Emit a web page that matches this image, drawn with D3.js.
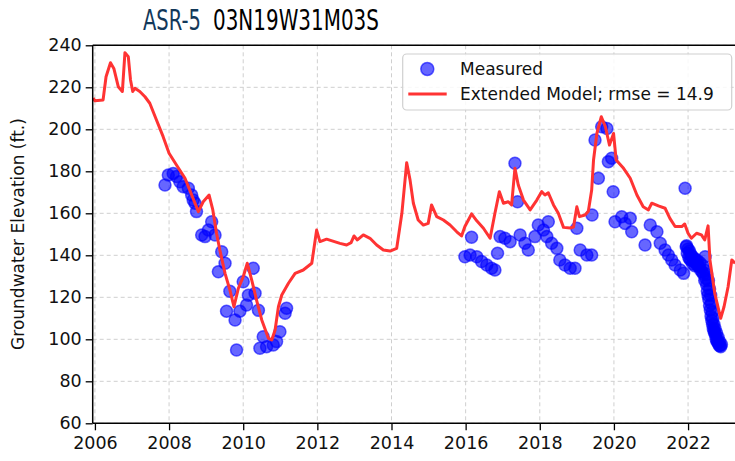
<!DOCTYPE html>
<html>
<head>
<meta charset="utf-8">
<script src="https://cdn.jsdelivr.net/npm/d3@7"></script>
<style>
  body { margin: 0; background: #fff; }
  text { font-family: "DejaVu Sans", sans-serif; }
</style>
</head>
<body>
<svg width="735" height="461"></svg>
<script>
// model line (extended model)
var modelYears = [2005.95, 2006.00, 2006.22, 2006.30, 2006.42, 2006.51, 2006.63, 2006.74, 2006.81, 2006.90,
    2006.96, 2007.02, 2007.08, 2007.21, 2007.35, 2007.48, 2007.66, 2007.84, 2008.00, 2008.20,
    2008.43, 2008.79, 2008.92, 2009.08, 2009.18, 2009.28, 2009.37, 2009.51, 2009.64, 2009.75,
    2009.87, 2010.00, 2010.11, 2010.23, 2010.36, 2010.50, 2010.68, 2010.77, 2010.86, 2010.95,
    2011.04, 2011.22, 2011.40, 2011.62, 2011.85, 2011.98, 2012.07, 2012.25, 2012.61, 2012.79,
    2012.91, 2012.99, 2013.08, 2013.24, 2013.42, 2013.60, 2013.78, 2013.96, 2014.14, 2014.28,
    2014.41, 2014.50, 2014.59, 2014.72, 2014.86, 2014.99, 2015.08, 2015.22, 2015.40, 2015.58,
    2015.76, 2015.89, 2015.98, 2016.16, 2016.30, 2016.48, 2016.66, 2016.79, 2016.91, 2017.02,
    2017.15, 2017.24, 2017.33, 2017.42, 2017.56, 2017.74, 2017.92, 2018.05, 2018.14, 2018.23,
    2018.37, 2018.50, 2018.64, 2018.82, 2018.91, 2019.00, 2019.07, 2019.22, 2019.31, 2019.40,
    2019.45, 2019.54, 2019.66, 2019.77, 2019.88, 2019.99, 2020.06, 2020.26, 2020.44, 2020.62,
    2020.79, 2020.93, 2021.02, 2021.20, 2021.38, 2021.51, 2021.65, 2021.83, 2021.91, 2022.00,
    2022.09, 2022.23, 2022.36, 2022.45, 2022.54, 2022.59, 2022.72, 2022.88, 2022.97, 2023.08,
    2023.18, 2023.27];
var modelValues = [214.8, 213.6, 214, 225, 231.7, 229, 220.3, 218, 236.5, 234.6,
    223.5, 218, 219.5, 218, 215.5, 212.4, 204.4, 196.5, 188.6, 183,
    176.7, 160.8, 165.5, 168.7, 161.6, 150.5, 142.5, 131.4, 123.5, 115.5,
    124.3, 129.8, 136.2, 128.2, 118.7, 109.2, 100.5, 99.7, 104.4, 115.5,
    121.1, 126.7, 131.4, 133, 136.2, 152, 146.5, 147.7, 145.7, 144.9,
    146, 149.2, 147.3, 149.7, 148.1, 144.9, 142.5, 142, 143.3, 160,
    184.1, 175.9, 164.8, 156.8, 154.4, 155.2, 164, 158.4, 156.8, 154.4,
    151.2, 149.2, 153.7, 159.7, 156.4, 152.9, 148.1, 160, 170.3, 164.8,
    165.5, 164, 181.4, 173.5, 166.3, 161.6, 166.3, 170.3, 168.7, 169.8,
    164, 160, 153.3, 153, 153.5, 163.1, 158.4, 159.2, 161, 171.1,
    185.4, 198, 206, 201.2, 192.5, 198, 185.4, 181.4, 176.7, 168.7,
    163.1, 161.6, 164.8, 163.5, 162.4, 157.6, 153.7, 153.7, 154.9, 150.5,
    148.1, 150.5, 149.7, 147.3, 154, 137.8, 121.9, 110, 115.5, 125,
    137.8, 136.2];

// measured water levels
var measuredYears = [2007.89, 2007.98, 2008.11, 2008.20, 2008.29, 2008.38, 2008.52, 2008.61, 2008.65, 2008.70,
    2008.74, 2008.88, 2008.97, 2009.06, 2009.15, 2009.24, 2009.33, 2009.42, 2009.51, 2009.55,
    2009.64, 2009.78, 2009.82, 2009.91, 2010.00, 2010.09, 2010.14, 2010.27, 2010.32, 2010.41,
    2010.45, 2010.54, 2010.63, 2010.81, 2010.90, 2010.99, 2011.13, 2011.17,
    2015.98, 2016.12, 2016.16, 2016.30, 2016.43, 2016.57, 2016.70, 2016.79, 2016.86, 2016.93,
    2017.06, 2017.20, 2017.33, 2017.40, 2017.47, 2017.60, 2017.69, 2017.87, 2017.96, 2018.10,
    2018.19, 2018.23, 2018.32, 2018.46, 2018.54, 2018.68, 2018.82, 2018.95, 2019.00, 2019.09,
    2019.27, 2019.40, 2019.41, 2019.49, 2019.58, 2019.67, 2019.81, 2019.85, 2019.94, 2019.98,
    2020.03, 2020.21, 2020.30, 2020.44, 2020.48, 2020.84, 2020.98, 2021.16, 2021.25, 2021.38,
    2021.47, 2021.56, 2021.65, 2021.79, 2021.88, 2021.92, 2021.95, 2021.98, 2022.02, 2022.05,
    2022.08, 2022.12, 2022.15, 2022.18, 2022.22, 2022.26, 2022.30, 2022.34, 2022.38, 2022.42,
    2022.45, 2022.46, 2022.48, 2022.50, 2022.52, 2022.54, 2022.56, 2022.58, 2022.60, 2022.62,
    2022.64, 2022.66, 2022.68, 2022.70, 2022.72, 2022.74, 2022.76, 2022.78, 2022.80, 2022.82,
    2022.84, 2022.86, 2022.88,
    2021.96, 2022.00, 2022.04, 2022.07, 2022.10, 2022.14, 2022.20, 2022.25, 2022.32, 2022.40,
    2022.44, 2022.50, 2022.55, 2022.58, 2022.61, 2022.63, 2022.65, 2022.67, 2022.70, 2022.73,
    2022.77, 2022.81, 2022.85, 2022.90];
var measuredValues = [173.5, 178.2, 179, 177.5, 175, 172.7, 171.9, 168.7, 166.3, 164.8,
    160.8, 149.7, 148.9, 152, 156, 149.7, 132.2, 141.7, 136.2, 113.4,
    122.9, 109.2, 94.9, 113.4, 127.4, 116.3, 121, 133.8, 121.9, 113.8,
    95.7, 101.2, 96.5, 97.3, 98.9, 103.6, 112.4, 114.8,
    139.3, 140.1, 148.6, 139.3, 137, 135.4, 133.8, 133, 141, 148.9,
    148.1, 146.5, 183.8, 165.5, 149.7, 145.7, 142.5, 148.9, 154.4, 152,
    148.9, 156, 145.7, 143.3, 137.8, 135.4, 133.8, 133.8, 152.9, 142.5,
    140.1, 140.1, 159.2, 194.9, 176.7, 201.2, 200.4, 184.6, 186.2, 170.3,
    156, 158.4, 155.2, 157.6, 151.2, 144.9, 154.4, 151.2, 145.7, 142.5,
    140.1, 137.8, 135.4, 133, 131.4, 171.9, 144.1, 141, 139, 138,
    137.8, 136, 137, 135, 136.2, 135, 134.6, 133, 132, 131,
    128, 139.3, 129, 126, 123, 121, 119, 116, 114, 111,
    109, 107, 105, 104, 103, 102, 100, 99, 99, 98,
    97, 97, 96.5,
    144.5, 143, 142, 140.5, 139.5, 139, 138, 137.5, 136.5, 135,
    133, 131, 128, 124, 121, 117, 113, 110, 107, 105,
    103, 101, 99, 97.5];

var xTicks = [2006, 2008, 2010, 2012, 2014, 2016, 2018, 2020, 2022];
var yTicks = [60, 80, 100, 120, 140, 160, 180, 200, 220, 240];

var legendLabels = ["Measured", "Extended Model; rmse = 14.9"];

//setup the svg canvas
var svg = d3.select("svg");

var plotLeft = 92.7, plotRight = 737, plotTop = 45.3, plotBottom = 423.3;

var x = d3.scaleLinear()
    .domain([2005.94, 2023.32])
    .range([plotLeft, plotRight]);

var y = d3.scaleLinear()
    .domain([60, 240])
    .range([plotBottom, plotTop]);

// grid lines
svg.append("g")
    .selectAll("line")
    .data(xTicks)
    .enter().append("line")
    .attr("x1", d => x(d)).attr("x2", d => x(d))
    .attr("y1", plotTop).attr("y2", plotBottom)
    .attr("stroke", "#cfcfcf")
    .attr("stroke-width", 1)
    .attr("stroke-dasharray", "4,3");

svg.append("g")
    .selectAll("line")
    .data(yTicks)
    .enter().append("line")
    .attr("x1", plotLeft).attr("x2", plotRight)
    .attr("y1", d => y(d)).attr("y2", d => y(d))
    .attr("stroke", "#cfcfcf")
    .attr("stroke-width", 1)
    .attr("stroke-dasharray", "4,3");

// measured points
var measured = measuredYears.map(function (d, i) { return { year: d, value: measuredValues[i] }; });

svg.append("g")
    .selectAll("circle")
    .data(measured)
    .enter().append("circle")
    .attr("cx", d => x(d.year))
    .attr("cy", d => y(d.value))
    .attr("r", 6)
    .attr("fill", "#0000ff")
    .attr("fill-opacity", 0.6)
    .attr("stroke", "#0000ff")
    .attr("stroke-opacity", 0.6)
    .attr("stroke-width", 1.5);

// model line
var model = modelYears.map(function (d, i) { return { year: d, value: modelValues[i] }; });

var line = d3.line()
    .x(d => x(d.year))
    .y(d => y(d.value));

svg.append("path")
    .datum(model)
    .attr("d", line)
    .attr("fill", "none")
    .attr("stroke", "#ff3333")
    .attr("stroke-width", 3)
    .attr("stroke-linejoin", "round");

// axes
var xAxis = svg.append("g")
    .attr("transform", "translate(0," + plotBottom + ")")
    .call(d3.axisBottom(x).tickValues(xTicks).tickFormat(d3.format("d")).tickSize(7).tickPadding(6));

var yAxis = svg.append("g")
    .attr("transform", "translate(" + plotLeft + ",0)")
    .call(d3.axisLeft(y).tickValues(yTicks).tickSize(7).tickPadding(4));

[xAxis, yAxis].forEach(function (a) {
    a.select(".domain").remove();
    a.selectAll("line").attr("stroke", "#000").attr("stroke-width", 1.3);
    a.selectAll("text")
        .attr("fill", "#111")
        .style("font-size", "17.5px")
        .style("font-family", "DejaVu Sans");
});

// spines
svg.append("line").attr("x1", plotLeft).attr("x2", plotRight).attr("y1", plotTop).attr("y2", plotTop)
    .attr("stroke", "#000").attr("stroke-width", 1.5);
svg.append("line").attr("x1", plotLeft).attr("x2", plotRight).attr("y1", plotBottom).attr("y2", plotBottom)
    .attr("stroke", "#000").attr("stroke-width", 1.5);
svg.append("line").attr("x1", plotLeft).attr("x2", plotLeft).attr("y1", plotTop).attr("y2", plotBottom)
    .attr("stroke", "#000").attr("stroke-width", 1.5);

// y label
svg.append("text")
    .attr("transform", "translate(24,234) rotate(-90)")
    .attr("text-anchor", "middle")
    .style("font-size", "17px")
    .attr("fill", "#111")
    .text("Groundwater Elevation (ft.)");

// title, two parts squeezed to the narrow look of the original
function squeezedTitle(txt, x0, width, colour) {
    var t = svg.append("text")
        .style("font-size", "28px")
        .attr("fill", colour)
        .text(txt);
    var natural = t.node().getComputedTextLength();
    t.attr("transform", "translate(" + x0 + ",30) scale(" + (width / natural) + ",1)");
}

squeezedTitle("ASR-5", 143, 58, "#12385a");
squeezedTitle("03N19W31M03S", 213, 166, "#000");

// legend
var legend = svg.append("g").attr("class", "legend");

legend.append("rect")
    .attr("x", 402.7).attr("y", 54)
    .attr("width", 329).attr("height", 56)
    .attr("rx", 4)
    .attr("fill", "#fff").attr("fill-opacity", 0.85)
    .attr("stroke", "#d0d0d0").attr("stroke-width", 1.2);

legend.append("circle")
    .attr("cx", 427.3).attr("cy", 69)
    .attr("r", 6.5)
    .attr("fill", "#0000ff").attr("fill-opacity", 0.6)
    .attr("stroke", "#0000ff").attr("stroke-opacity", 0.6).attr("stroke-width", 1.5);

legend.append("line")
    .attr("x1", 408.3).attr("x2", 446.7)
    .attr("y1", 94).attr("y2", 94)
    .attr("stroke", "#ff3333").attr("stroke-width", 3);

legend.selectAll(".lbl")
    .data(legendLabels)
    .enter().append("text")
    .attr("class", "lbl")
    .attr("x", 460)
    .attr("y", (d, i) => 69 + i * 25)
    .attr("dy", "0.35em")
    .style("font-size", "17px")
    .attr("fill", "#111")
    .text(d => d);
</script>
</body>
</html>
